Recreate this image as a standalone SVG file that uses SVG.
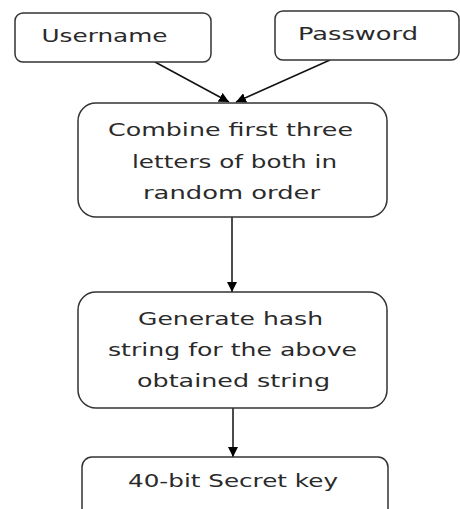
<svg xmlns="http://www.w3.org/2000/svg" width="460" height="509" viewBox="0 0 460 509">
<style>
.box{fill:#fff;stroke:#333;stroke-width:1.5}
.t{font-family:"DejaVu Sans","Liberation Sans",sans-serif;font-size:18px;fill:#2a2a2a;text-anchor:middle}
.c{stroke:#111;stroke-width:1.5;fill:none}
</style>
<defs>
<marker id="ah" viewBox="0 0 10 10" refX="10" refY="5" markerWidth="10" markerHeight="10" markerUnits="userSpaceOnUse" orient="auto">
<path d="M0,0 L10,5 L0,10 Z" fill="#000"/>
</marker>
</defs>
<rect width="460" height="509" fill="#fff"/>
<g id="connectors">
<line class="c" x1="155" y1="62" x2="229" y2="102" marker-end="url(#ah)"/>
<line class="c" x1="330" y1="60" x2="236" y2="102" marker-end="url(#ah)"/>
<line class="c" x1="232" y1="217" x2="232" y2="292" marker-end="url(#ah)"/>
<line class="c" x1="233" y1="408" x2="233" y2="457" marker-end="url(#ah)"/>
</g>
<g id="username">
<rect class="box" x="15" y="13" width="196" height="49" rx="8"/>
<text class="t" x="104.5" y="42" textLength="126" lengthAdjust="spacingAndGlyphs">Username</text>
</g>
<g id="password">
<rect class="box" x="275" y="11" width="184" height="49" rx="8"/>
<text class="t" x="358" y="40" textLength="120" lengthAdjust="spacingAndGlyphs">Password</text>
</g>
<g id="combine">
<rect class="box" x="78" y="103" width="309" height="114" rx="18"/>
<text class="t" x="230.5" y="136" textLength="245" lengthAdjust="spacingAndGlyphs">Combine first three</text>
<text class="t" x="234.5" y="168" textLength="205" lengthAdjust="spacingAndGlyphs">letters of both in</text>
<text class="t" x="231.5" y="199" textLength="177" lengthAdjust="spacingAndGlyphs">random order</text>
</g>
<g id="hash">
<rect class="box" x="78" y="292" width="309" height="116" rx="18"/>
<text class="t" x="230.5" y="325" textLength="185" lengthAdjust="spacingAndGlyphs">Generate hash</text>
<text class="t" x="232.5" y="356" textLength="249" lengthAdjust="spacingAndGlyphs">string for the above</text>
<text class="t" x="233.5" y="387" textLength="193" lengthAdjust="spacingAndGlyphs">obtained string</text>
</g>
<g id="secret">
<rect class="box" x="82" y="457" width="306" height="70" rx="10"/>
<text class="t" x="233" y="487" textLength="210" lengthAdjust="spacingAndGlyphs">40-bit Secret key</text>
</g>
</svg>
